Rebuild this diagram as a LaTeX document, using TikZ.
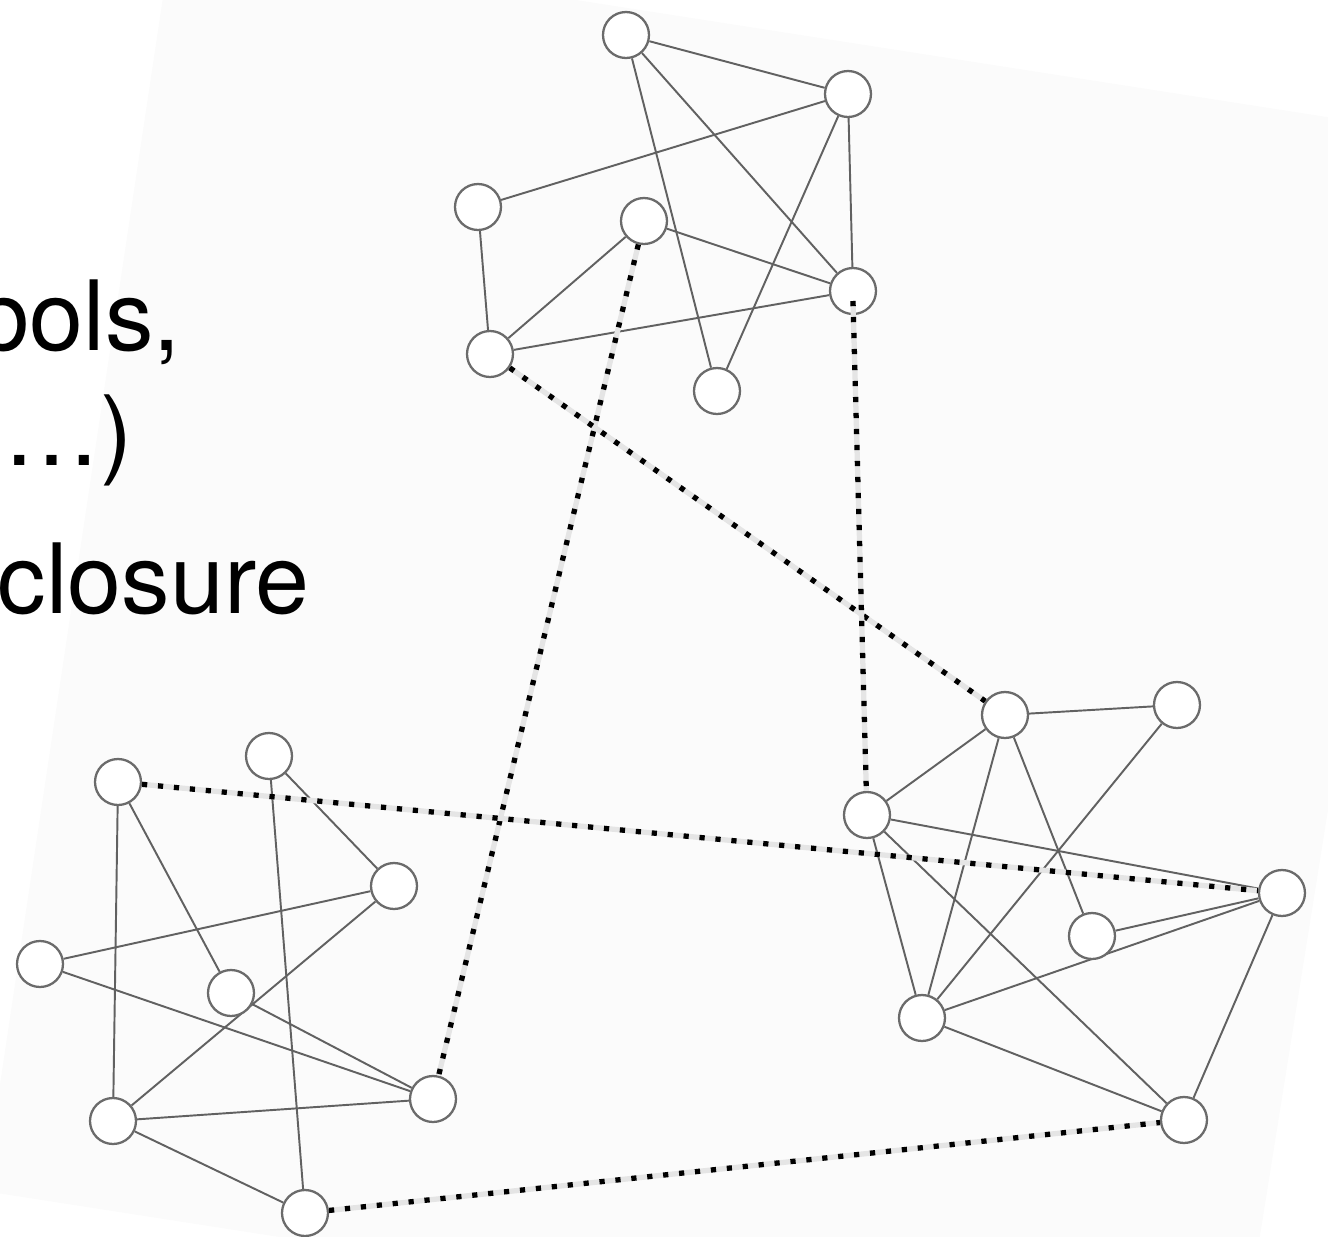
\documentclass[tikz,border=0pt]{standalone}
\usepackage{fontspec}
\setmainfont{TeX Gyre Heros}
\usetikzlibrary{backgrounds}

\begin{document}
\begin{tikzpicture}[x=0.1mm, y=-0.1mm, line join=round,
  vertex/.style={circle, draw=black!58, fill=white, line width=0.65pt, minimum size=4.6mm, inner sep=0pt},
  wire/.style={draw=black!62, line width=0.55pt},
  bridge/.style={draw=black, line width=1.5pt, line cap=butt, dash pattern=on 0.52mm off 1.08mm,
    preaction={draw=black!10, line width=1.5pt, solid}},
  words/.style={anchor=base west, inner sep=0pt, font=\fontsize{27.6pt}{33pt}\selectfont},
  paper/.style={fill=black!1.5}]
\useasboundingbox (0,0) rectangle (1328,1237);

\node [vertex] (a1) at (626,35) {};
\node [vertex] (a2) at (848,94) {};
\node [vertex] (a3) at (478,207) {};
\node [vertex] (a4) at (644,221) {};
\node [vertex] (a5) at (853,291) {};
\node [vertex] (a6) at (490,354) {};
\node [vertex] (a7) at (717,391) {};

\node [vertex] (b1) at (118,782) {};
\node [vertex] (b2) at (269,756) {};
\node [vertex] (b3) at (394,886) {};
\node [vertex] (b4) at (40,964) {};
\node [vertex] (b5) at (231,993) {};
\node [vertex] (b6) at (113,1121) {};
\node [vertex] (b7) at (433,1099) {};
\node [vertex] (b8) at (305,1213) {};

\node [vertex] (c1) at (1005,715) {};
\node [vertex] (c2) at (1177,705) {};
\node [vertex] (c3) at (867,815) {};
\node [vertex] (c4) at (1092,936) {};
\node [vertex] (c5) at (1282,893) {};
\node [vertex] (c6) at (922,1018) {};
\node [vertex] (c7) at (1184,1120) {};

\begin{scope}[on background layer]
\fill [paper] (172,-63) -- (1436,134) -- (1236,1386) -- (-16,1191) -- cycle;
\draw [wire] (a1) -- (a2);
\draw [wire] (a1) -- (a5);
\draw [wire] (a1) -- (a7);
\draw [wire] (a3) -- (a2);
\draw [wire] (a2) -- (a5);
\draw [wire] (a2) -- (a7);
\draw [wire] (a3) -- (a6);
\draw [wire] (a4) -- (a6);
\draw [wire] (a4) -- (a5);
\draw [wire] (a6) -- (a5);
\draw [wire] (b1) -- (b6);
\draw [wire] (b1) -- (b5);
\draw [wire] (b2) -- (b3);
\draw [wire] (b2) -- (b8);
\draw [wire] (b4) -- (b3);
\draw [wire] (b4) -- (b7);
\draw [wire] (b3) -- (b6);
\draw [wire] (b5) -- (b7);
\draw [wire] (b6) -- (b7);
\draw [wire] (b6) -- (b8);
\draw [wire] (c1) -- (c2);
\draw [wire] (c1) -- (c3);
\draw [wire] (c1) -- (c4);
\draw [wire] (c1) -- (c6);
\draw [wire] (c2) -- (c6);
\draw [wire] (c3) -- (c5);
\draw [wire] (c3) -- (c6);
\draw [wire] (c3) -- (c7);
\draw [wire] (c4) -- (c5);
\draw [wire] (c6) -- (c5);
\draw [wire] (c5) -- (c7);
\draw [wire] (c6) -- (c7);
\end{scope}

\draw [bridge] (a4) -- (b7);
\draw [bridge] (a6) -- (c1);
\draw [bridge] ([yshift=-1mm]a5.center) -- (c3);
\draw [bridge] (b1) -- (c5);
\draw [bridge] (b8) -- (c7);

\node [words] (sym) at (-25,350) {bols,};
\node [words] (etc) at (3,465) {…)};
\node [words] (clo) at (-3,613) {closure};
\end{tikzpicture}
\end{document}
